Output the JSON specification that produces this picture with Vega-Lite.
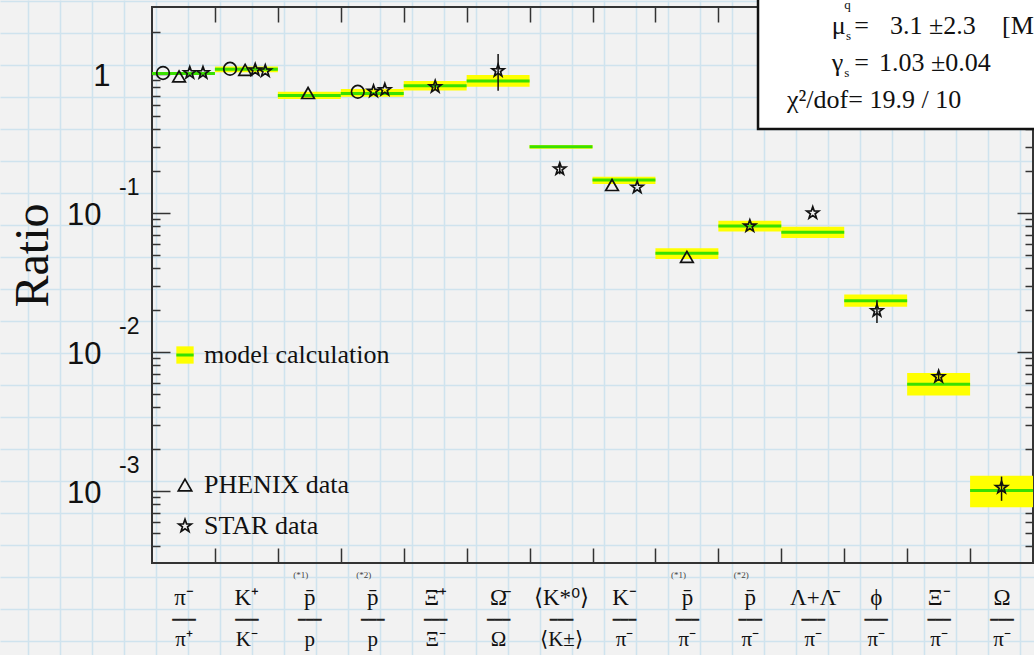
{
  "$schema": "https://vega.github.io/schema/vega-lite/v6.json",
  "width": 1034,
  "height": 655,
  "autosize": {"type": "none"},
  "padding": 0,
  "config": {
    "background": "#f2f2f2",
    "view": {"stroke": null},
    "axis": {"labelColor": "#111", "titleColor": "#111", "labelOverlap": false, "labelFlush": false, "grid": false, "domain": false}
  },
  "datasets": {
    "bands": [
      {"bin": 0, "x0": 0, "x1": 1, "model": 1.01, "lo": 0.995, "hi": 1.03},
      {"bin": 1, "x0": 1, "x1": 2, "model": 1.08, "lo": 1.03, "hi": 1.13},
      {"bin": 2, "x0": 2, "x1": 3, "model": 0.70, "lo": 0.66, "hi": 0.745},
      {"bin": 3, "x0": 3, "x1": 4, "model": 0.725, "lo": 0.685, "hi": 0.78},
      {"bin": 4, "x0": 4, "x1": 5, "model": 0.824, "lo": 0.76, "hi": 0.89},
      {"bin": 5, "x0": 5, "x1": 6, "model": 0.89, "lo": 0.81, "hi": 0.983},
      {"bin": 6, "x0": 6, "x1": 7, "model": 0.30, "lo": 0.29, "hi": 0.308},
      {"bin": 7, "x0": 7, "x1": 8, "model": 0.173, "lo": 0.162, "hi": 0.182},
      {"bin": 8, "x0": 8, "x1": 9, "model": 0.0513, "lo": 0.0467, "hi": 0.0558},
      {"bin": 9, "x0": 9, "x1": 10, "model": 0.0805, "lo": 0.0736, "hi": 0.0881},
      {"bin": 10, "x0": 10, "x1": 11, "model": 0.0727, "lo": 0.0662, "hi": 0.0797},
      {"bin": 11, "x0": 11, "x1": 12, "model": 0.0234, "lo": 0.0212, "hi": 0.0259},
      {"bin": 12, "x0": 12, "x1": 13, "model": 0.00586, "lo": 0.00487, "hi": 0.00705},
      {"bin": 13, "x0": 13, "x1": 14, "model": 0.00101, "lo": 0.000765, "hi": 0.00129}
    ],
    "points": [
      {"bin": 0, "exp": "BRAHMS data", "x": 0.175, "ratio": 1.017},
      {"bin": 0, "exp": "PHENIX data", "x": 0.43, "ratio": 0.96},
      {"bin": 0, "exp": "STAR data", "x": 0.6, "ratio": 1.02},
      {"bin": 0, "exp": "STAR data", "x": 0.81, "ratio": 1.02},
      {"bin": 1, "exp": "BRAHMS data", "x": 1.24, "ratio": 1.09},
      {"bin": 1, "exp": "PHENIX data", "x": 1.48, "ratio": 1.07},
      {"bin": 1, "exp": "STAR data", "x": 1.64, "ratio": 1.07},
      {"bin": 1, "exp": "STAR data", "x": 1.8, "ratio": 1.05},
      {"bin": 2, "exp": "PHENIX data", "x": 2.48, "ratio": 0.73},
      {"bin": 3, "exp": "BRAHMS data", "x": 3.27, "ratio": 0.745},
      {"bin": 3, "exp": "STAR data", "x": 3.52, "ratio": 0.75},
      {"bin": 3, "exp": "STAR data", "x": 3.7, "ratio": 0.77},
      {"bin": 4, "exp": "STAR data", "x": 4.5, "ratio": 0.81, "elo": 0.78, "ehi": 0.84},
      {"bin": 5, "exp": "STAR data", "x": 5.5, "ratio": 1.056, "elo": 0.758, "ehi": 1.393},
      {"bin": 6, "exp": "STAR data", "x": 6.48, "ratio": 0.207, "elo": 0.19, "ehi": 0.22},
      {"bin": 7, "exp": "PHENIX data", "x": 7.31, "ratio": 0.159},
      {"bin": 7, "exp": "STAR data", "x": 7.71, "ratio": 0.153},
      {"bin": 8, "exp": "PHENIX data", "x": 8.5, "ratio": 0.0484},
      {"bin": 9, "exp": "STAR data", "x": 9.5, "ratio": 0.0805},
      {"bin": 10, "exp": "STAR data", "x": 10.5, "ratio": 0.1},
      {"bin": 11, "exp": "STAR data", "x": 11.52, "ratio": 0.0198, "elo": 0.0162, "ehi": 0.0236},
      {"bin": 12, "exp": "STAR data", "x": 12.5, "ratio": 0.00664, "elo": 0.0062, "ehi": 0.0071},
      {"bin": 13, "exp": "STAR data", "x": 13.5, "ratio": 0.00106, "elo": 0.00085, "ehi": 0.00127}
    ],
    "boxtext": [
      {"t": "μ", "x": 10.8, "y": 1.94},
      {"t": "=", "x": 11.16, "y": 1.94},
      {"t": "3.1 ±2.3", "x": 11.728, "y": 1.94},
      {"t": "[M", "x": 13.507, "y": 1.94},
      {"t": "γ", "x": 10.8, "y": 1.051},
      {"t": "=", "x": 11.16, "y": 1.051},
      {"t": "1.03 ±0.04", "x": 11.553, "y": 1.051},
      {"t": "χ²/dof= 19.9 / 10", "x": 10.091, "y": 0.569}
    ],
    "boxsub": [
      {"t": "q", "x": 11.0, "y": 2.95},
      {"t": "s", "x": 11.03, "y": 1.757},
      {"t": "s", "x": 11.0, "y": 0.951}
    ]
  },
  "layer": [
    {
      "data": {"values": [{}]},
      "mark": {"type": "point", "opacity": 0},
      "encoding": {
        "x": {"datum": 0, "type": "quantitative", "scale": {"domain": [0, 1034], "nice": false, "zero": false},
          "axis": {"orient": "bottom", "values": [28,60,92,124,156,188,220,252,284,316,348,380,412,444,476,508,540,572,604,636,668,700,732,764,796,828,860,892,924,956,988,1020],
            "grid": true, "gridColor": "#cfe3ee", "gridWidth": 1.6, "labels": false, "ticks": false, "domain": false, "title": null}},
        "y": {"datum": 0, "type": "quantitative", "scale": {"domain": [0, 655], "reverse": true, "nice": false, "zero": false},
          "axis": {"orient": "left", "values": [1,33,65,97,129,161,193,225,257,289,321,353,385,417,449,481,513,545,577,609,641],
            "grid": true, "gridColor": "#cfe3ee", "gridWidth": 1.6, "labels": false, "ticks": false, "domain": false, "title": null}}
      }
    },
    {
      "layer": [
        {
          "data": {"values": [{}]},
          "mark": {"type": "rect", "fillOpacity": 0, "stroke": "#333", "strokeWidth": 2},
          "encoding": {
            "x": {"datum": 0, "type": "quantitative", "scale": {"domain": [-2.4154, 14.0156], "nice": false, "zero": false},
              "axis": {"orient": "bottom", "offset": -92, "values": [0.5,1.5,2.5,3.5,4.5,5.5,6.5,7.5,8.5,9.5,10.5,11.5,12.5,13.5],
                "labelExpr": "'━━━'", "ticks": false, "tickSize": 0, "labelPadding": 56, "labelBaseline": "middle",
                "labelFont": "DejaVu Sans", "labelFontSize": 13, "labelColor": "#222", "title": null}},
            "x2": {"datum": 14},
            "y": {"datum": 0.0003034, "type": "quantitative", "scale": {"type": "log", "domain": [0.0000661, 3.407], "nice": false},
              "axis": {"orient": "left", "offset": -152, "values": [1], "labelExpr": "'1'", "ticks": false, "tickSize": 0, "labelPadding": 42,
                "labelFont": "Liberation Sans", "labelFontSize": 31, "labelBaseline": "middle", "labelOffset": 2,
                "title": "Ratio", "titleFont": "Liberation Serif", "titleFontSize": 48, "titleFontWeight": "normal",
                "titleAngle": -90, "titleX": -105, "titleY": 255, "titleAlign": "center", "titleBaseline": "alphabetic"}},
            "y2": {"datum": 3.034}
          }
        },
        {
          "data": {"name": "bands"},
          "mark": {"type": "rect"},
          "encoding": {
            "x": {"field": "x0", "type": "quantitative", "scale": {"domain": [-2.4154, 14.0156], "nice": false, "zero": false},
              "axis": {"orient": "bottom", "offset": -92, "values": [0.5,1.5,2.5,3.5,4.5,5.5,6.5,7.5,8.5,9.5,10.5,11.5,12.5,13.5],
                "labelExpr": "['π⁻','K⁺','p\u0304','p\u0304','Ξ\u0304⁺','Ω\u0304','⟨K*⁰⟩','K⁻','p\u0304','p\u0304','Λ+Λ\u0304','ϕ','Ξ⁻','Ω'][floor(datum.value)]",
                "ticks": false, "tickSize": 0, "labelPadding": 34, "labelBaseline": "middle", "labelFont": "Liberation Serif", "labelFontSize": 23, "title": null}},
            "x2": {"field": "x1"},
            "y": {"field": "lo", "type": "quantitative", "scale": {"type": "log", "domain": [0.0000661, 3.407], "nice": false},
              "axis": {"orient": "left", "offset": -152, "values": [0.1, 0.01, 0.001], "labelExpr": "'10'", "ticks": false, "tickSize": 0,
                "labelPadding": 51, "labelFont": "Liberation Sans", "labelFontSize": 31, "labelBaseline": "middle", "labelOffset": 2, "title": null}},
            "y2": {"field": "hi"},
            "fill": {"datum": "model calculation", "type": "nominal", "scale": {"range": ["#ffff00"]},
              "legend": {"orient": "none", "legendX": 172, "legendY": 342, "title": null, "symbolType": "square", "symbolSize": 300,
                "symbolStrokeWidth": 0, "labelFont": "Liberation Serif", "labelFontSize": 26, "labelColor": "#111", "labelOffset": 6, "labelLimit": 400, "padding": 0}}
          }
        },
        {
          "data": {"name": "bands"},
          "mark": {"type": "rule", "strokeWidth": 3},
          "encoding": {
            "x": {"field": "x0", "type": "quantitative", "scale": {"domain": [-2.4154, 14.0156], "nice": false, "zero": false},
              "axis": {"orient": "bottom", "offset": -92, "values": [2.5, 3.5, 8.5, 9.5], "labelExpr": "floor(datum.value) % 2 == 0 ? '(*1)' : '(*2)'",
                "ticks": false, "tickSize": 0, "labelPadding": 7, "labelFont": "Liberation Serif", "labelFontSize": 9, "labelOffset": -9, "labelColor": "#444", "title": null}},
            "x2": {"field": "x1"},
            "y": {"field": "model", "type": "quantitative", "scale": {"type": "log", "domain": [0.0000661, 3.407], "nice": false},
              "axis": {"orient": "left", "offset": -152, "values": [0.1, 0.01, 0.001], "labelExpr": "'-' + round(-log(datum.value) / LN10)",
                "ticks": false, "tickSize": 0, "labelPadding": 13, "labelFont": "Liberation Sans", "labelFontSize": 23, "labelBaseline": "middle", "labelOffset": -26, "title": null}},
            "stroke": {"datum": "model line", "type": "nominal", "scale": {"range": ["#3ae000"]},
              "legend": {"orient": "none", "legendX": 172, "legendY": 342, "title": null, "symbolType": "stroke", "symbolSize": 300,
                "symbolStrokeWidth": 3, "labelExpr": "''", "labelFontSize": 26, "labelOffset": 6, "padding": 0}}
          }
        },
        {
          "data": {"name": "points"},
          "transform": [{"filter": "isValid(datum.elo)"}],
          "mark": {"type": "rule", "stroke": "#111", "strokeWidth": 1.5},
          "encoding": {
            "x": {"field": "x", "type": "quantitative", "scale": {"domain": [-2.4154, 14.0156], "nice": false, "zero": false},
              "axis": {"orient": "top", "offset": -563, "values": [1,2,3,4,5,6,7,8,9,10,11,12,13], "labels": false, "ticks": true,
                "tickSize": 15, "tickWidth": 1.5, "tickColor": "#333", "title": null}},
            "y": {"field": "elo", "type": "quantitative", "scale": {"type": "log", "domain": [0.0000661, 3.407], "nice": false},
              "axis": {"orient": "right", "offset": -882, "values": [0.001, 0.01, 0.1, 1], "labels": false, "ticks": true,
                "tickSize": 18, "tickWidth": 1.5, "tickColor": "#333", "title": null}},
            "y2": {"field": "ehi"}
          }
        },
        {
          "data": {"name": "points"},
          "mark": {"type": "point", "filled": false, "color": "#111", "strokeWidth": 1.7, "size": 160, "opacity": 1},
          "encoding": {
            "x": {"field": "x", "type": "quantitative", "scale": {"domain": [-2.4154, 14.0156], "nice": false, "zero": false},
              "axis": {"orient": "bottom", "offset": -648, "values": [1,2,3,4,5,6,7,8,9,10,11,12,13], "labels": false, "ticks": true,
                "tickSize": 15, "tickWidth": 1.5, "tickColor": "#333", "title": null}},
            "y": {"field": "ratio", "type": "quantitative", "scale": {"type": "log", "domain": [0.0000661, 3.407], "nice": false},
              "axis": {"orient": "right", "offset": -882, "values": [0.0004,0.0005,0.0006,0.0007,0.0008,0.0009,0.002,0.003,0.004,0.005,0.006,0.007,0.008,0.009,0.02,0.03,0.04,0.05,0.06,0.07,0.08,0.09,0.2,0.3,0.4,0.5,0.6,0.7,0.8,0.9,2],
                "labels": false, "ticks": true, "tickSize": 8, "tickWidth": 1.5, "tickColor": "#333", "title": null}},
            "shape": {"field": "exp", "type": "nominal",
              "scale": {"domain": ["BRAHMS data", "PHENIX data", "STAR data"],
                "range": ["circle", "triangle-up", "M0,-1L0.235,-0.324L0.951,-0.309L0.38,0.124L0.588,0.809L0,0.4L-0.588,0.809L-0.38,0.124L-0.951,-0.309L-0.235,-0.324Z"]},
              "legend": {"orient": "none", "legendX": 172, "legendY": 472, "title": null, "values": ["PHENIX data", "STAR data"],
                "labelFont": "Liberation Serif", "labelFontSize": 26, "labelColor": "#111", "symbolStrokeColor": "#111",
                "symbolStrokeWidth": 1.7, "symbolSize": 180, "rowPadding": 15, "labelOffset": 6, "labelLimit": 400, "padding": 0}}
          }
        },
        {
          "data": {"values": [{}]},
          "mark": {"type": "rect", "fill": "white", "stroke": "#111", "strokeWidth": 2.5},
          "encoding": {
            "x": {"datum": 9.63, "type": "quantitative", "scale": {"domain": [-2.4154, 14.0156], "nice": false, "zero": false},
              "axis": {"orient": "bottom", "offset": -92, "values": [0.5,1.5,2.5,3.5,4.5,5.5,6.5,7.5,8.5,9.5,10.5,11.5,12.5,13.5],
                "labelExpr": "['π⁺','K⁻','p','p','Ξ⁻','Ω','⟨K±⟩','π⁻','π⁻','π⁻','π⁻','π⁻','π⁻','π⁻'][floor(datum.value)]",
                "ticks": false, "tickSize": 0, "labelPadding": 76, "labelBaseline": "middle", "labelFont": "Liberation Serif", "labelFontSize": 21, "title": null}},
            "x2": {"datum": 14.6},
            "y": {"datum": 0.4016, "type": "quantitative", "scale": {"type": "log", "domain": [0.0000661, 3.407], "nice": false},
              "axis": {"orient": "left", "offset": -1033, "values": [0.001, 0.01, 0.1, 1], "labels": false, "ticks": true,
                "tickSize": 16, "tickWidth": 1.5, "tickColor": "#333", "title": null}},
            "y2": {"datum": 6}
          }
        },
        {
          "data": {"name": "boxtext"},
          "mark": {"type": "text", "align": "left", "baseline": "alphabetic", "font": "Liberation Serif", "fontSize": 26, "color": "#111"},
          "encoding": {
            "x": {"field": "x", "type": "quantitative", "scale": {"domain": [-2.4154, 14.0156], "nice": false, "zero": false}, "axis": null},
            "y": {"field": "y", "type": "quantitative", "scale": {"type": "log", "domain": [0.0000661, 3.407], "nice": false},
              "axis": {"orient": "left", "offset": -1033, "values": [0.0004,0.0005,0.0006,0.0007,0.0008,0.0009,0.002,0.003,0.004,0.005,0.006,0.007,0.008,0.009,0.02,0.03,0.04,0.05,0.06,0.07,0.08,0.09,0.2,0.3,0.4,0.5,0.6,0.7,0.8,0.9,2],
                "labels": false, "ticks": true, "tickSize": 8, "tickWidth": 1.5, "tickColor": "#333", "title": null}},
            "text": {"field": "t"}
          }
        },
        {
          "data": {"name": "boxsub"},
          "mark": {"type": "text", "align": "left", "baseline": "alphabetic", "font": "Liberation Serif", "fontSize": 13, "color": "#111"},
          "encoding": {
            "x": {"field": "x", "type": "quantitative", "scale": {"domain": [-2.4154, 14.0156], "nice": false, "zero": false}, "axis": null},
            "y": {"field": "y", "type": "quantitative", "scale": {"type": "log", "domain": [0.0000661, 3.407], "nice": false}, "axis": null},
            "text": {"field": "t"}
          }
        }
      ],
      "resolve": {"axis": {"x": "independent", "y": "independent"}}
    }
  ],
  "resolve": {"scale": {"x": "independent", "y": "independent"}}
}
